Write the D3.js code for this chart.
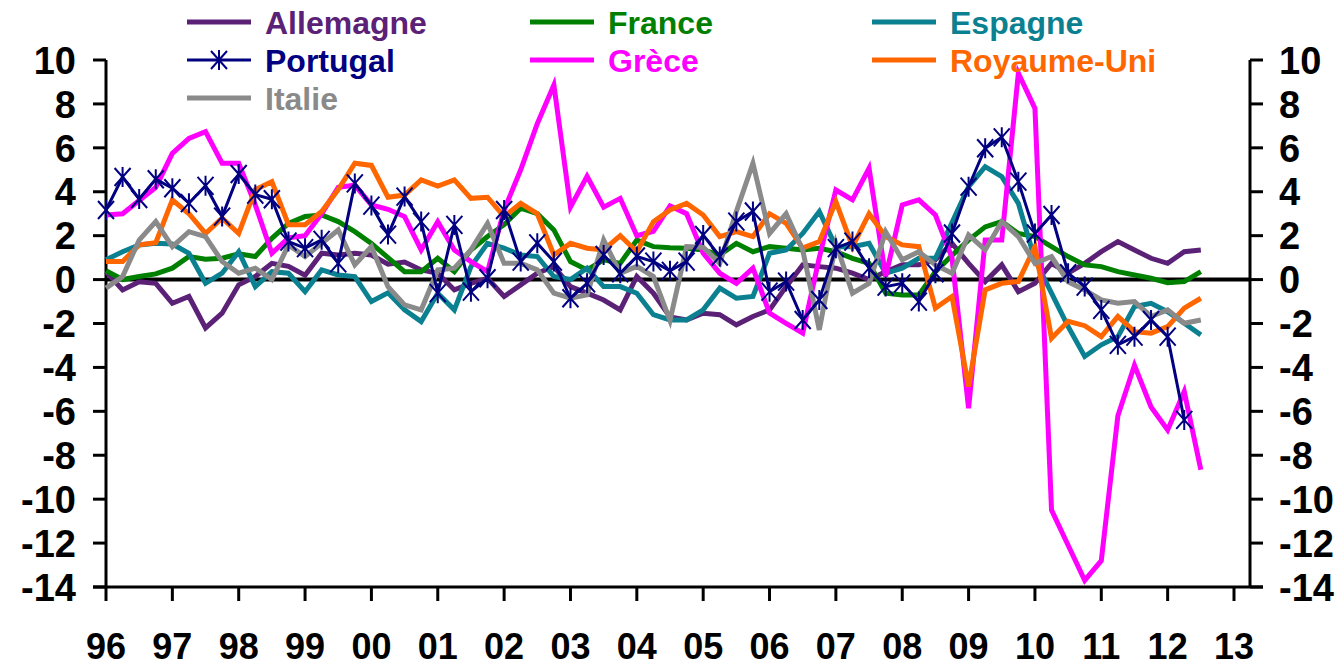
<!DOCTYPE html>
<html>
<head>
<meta charset="utf-8">
<script src="https://cdn.jsdelivr.net/npm/d3@7"></script>
<style>
  body { margin: 0; background: #fff; }
  svg text { font-family: "Liberation Sans", Arial, sans-serif; font-weight: bold; }
</style>
</head>
<body>
<svg width="1344" height="668"></svg>
<script>
// quarterly, from 1996 Q1
var startYear = 1996;
var yearTicks = ["96", "97", "98", "99", "00", "01", "02", "03", "04", "05", "06", "07", "08", "09", "10", "11", "12", "13"];
var yTicks = [10, 8, 6, 4, 2, 0, -2, -4, -6, -8, -10, -12, -14];

var allemagne = [0.36, -0.47, -0.1, -0.17, -1.08, -0.77, -2.2, -1.53, -0.24, 0.14, 0.74, 0.6, 0.2, 1.2, 1.12, 1.2, 1.12, 0.7, 0.8, 0.44, 0.29, -0.47, -0.17, 0.06, -0.77, -0.24, 0.29, 0.6, -0.32, -0.62, -0.93, -1.38, 0.14, -0.62, -1.7, -1.84, -1.53, -1.6, -2.06, -1.68, -1.38, -0.32, 0.67, 0.59, 0.52, 0.29, 0, 0.36, 0.67, 0.67, 0.9, 1.65, 0.74, -0.09, 0.67, -0.55, -0.17, 0.74, 0.29, 0.74, 1.27, 1.73, 1.35, 0.97, 0.74, 1.27, 1.35];
var france = [0.4, 0.0, 0.14, 0.26, 0.52, 1.05, 0.93, 0.97, 1.17, 1.05, 1.88, 2.56, 2.87, 2.94, 2.64, 2.18, 1.65, 1.0, 0.36, 0.36, 0.97, 0.36, 1.35, 1.96, 2.5, 3.25, 3.0, 2.26, 0.82, 0.44, 0.9, 0.74, 1.8, 1.5, 1.45, 1.43, 1.35, 1.12, 1.65, 1.27, 1.5, 1.43, 1.35, 1.43, 1.27, 0.97, 0.74, -0.62, -0.7, -0.7, 0.36, 1.1, 1.8, 2.4, 2.64, 2.1, 1.96, 1.5, 1.05, 0.67, 0.59, 0.36, 0.21, 0.06, -0.14, -0.09, 0.36];
var espagne = [0.9, 1.27, 1.58, 1.65, 1.62, 1.2, -0.17, 0.29, 1.27, -0.32, 0.36, 0.29, -0.55, 0.44, 0.21, 0.14, -1.0, -0.6, -1.38, -1.91, -0.62, -1.38, 0.59, 1.65, 1.43, 1.12, 1.05, 0.14, 0, 0.52, -0.32, -0.32, -0.62, -1.6, -1.84, -1.84, -1.38, -0.39, -0.85, -0.77, 1.2, 1.35, 2.1, 3.1, 1.5, 1.5, 1.65, 0.29, 0.52, 0.97, 0.97, 2.6, 4.23, 5.14, 4.69, 3.47, 0.9, -0.62, -2.14, -3.5, -2.97, -2.6, -1.23, -1.08, -1.46, -1.99, -2.52];
var portugal = [3.17, 4.67, 3.67, 4.57, 4.16, 3.48, 4.27, 2.87, 4.81, 3.87, 3.66, 1.73, 1.43, 1.81, 0.74, 4.38, 3.37, 2.05, 3.78, 2.64, -0.62, 2.49, -0.55, 0.06, 3.17, 0.82, 1.65, 0.82, -0.85, -0.17, 1.12, 0.29, 1.05, 0.82, 0.4, 0.82, 2.03, 1.05, 2.64, 3.1, -0.55, -0.09, -1.84, -0.93, 1.43, 1.73, 0.52, -0.32, -0.17, -1.0, 0.29, 2.1, 4.23, 5.98, 6.48, 4.46, 2.1, 2.94, 0.29, -0.32, -1.38, -2.97, -2.6, -1.84, -2.6, -6.39];
var grece = [2.94, 3.0, 3.6, 4.2, 5.75, 6.43, 6.74, 5.3, 5.3, 3.4, 1.2, 1.9, 2.0, 3.0, 4.2, 4.3, 3.4, 3.2, 2.87, 1.35, 2.64, 1.35, 0.82, 0.36, 3.17, 5.0, 7.1, 8.86, 3.3, 4.7, 3.3, 3.7, 2.0, 2.2, 3.35, 3.0, 1.2, 0.29, -0.17, 0.52, -1.53, -1.99, -2.44, 1.0, 4.08, 3.63, 5.07, 0.14, 3.4, 3.63, 2.94, 1.0, -5.86, 1.8, 1.8, 9.4, 7.8, -10.5, -12.1, -13.7, -12.8, -6.2, -3.9, -5.8, -6.85, -5.1, -8.66];
var royaumeUni = [0.82, 0.82, 1.58, 1.68, 3.63, 3.0, 2.1, 2.8, 2.1, 4.1, 4.46, 2.5, 2.5, 3.1, 4.1, 5.3, 5.2, 3.75, 3.85, 4.54, 4.26, 4.54, 3.7, 3.75, 2.87, 3.47, 3.0, 1.12, 1.65, 1.43, 1.35, 2.0, 1.27, 2.64, 3.17, 3.47, 2.94, 1.96, 2.18, 1.96, 3.0, 2.56, 1.43, 1.73, 3.55, 1.5, 3.0, 1.96, 1.58, 1.5, -1.3, -0.77, -4.87, -0.47, -0.17, -0.09, 1.5, -2.67, -1.9, -2.1, -2.6, -1.68, -2.37, -2.44, -2.14, -1.3, -0.85];
var italie = [-0.39, 0.14, 1.8, 2.64, 1.5, 2.18, 1.96, 0.82, 0.29, 0.52, 0, 1.58, 1.05, 1.65, 2.26, 0.67, 1.5, -0.32, -1.15, -1.38, 0.44, 0.52, 1.35, 2.56, 0.74, 0.74, 0.44, -0.62, -0.85, -0.7, 1.8, 0.29, 0.6, 0.14, -1.87, 1.5, 1.47, 0.74, 3.1, 5.3, 2.1, 3.0, 1.35, -2.29, 1.65, -0.62, -0.17, 2.18, 0.9, 1.27, 0.67, 0.29, 2.03, 1.35, 2.64, 1.96, 0.74, 1.05, -0.1, -0.47, -0.93, -1.08, -1.0, -1.68, -1.38, -1.99, -1.84];

var series = [
  { name: "Allemagne", values: allemagne, color: "#5B2177" },
  { name: "France", values: france, color: "#008000" },
  { name: "Espagne", values: espagne, color: "#0B8090" },
  { name: "Grèce", values: grece, color: "#FF00FF" },
  { name: "Royaume-Uni", values: royaumeUni, color: "#FF6600" },
  { name: "Italie", values: italie, color: "#8A8A8A" },
  { name: "Portugal", values: portugal, color: "#000080", marker: true }
];

var svg = d3.select("svg");

var x = d3.scaleLinear().domain([1996, 2013]).range([106, 1234]);
var y = d3.scaleLinear().domain([-14, 10]).range([587, 60]);
var xLeft = 106, xRight = 1250;

function asterisk(g) {
  g.append("path")
    .attr("d", "M0,-10L0,10M-8,-9L8,9M-8,9L8,-9")
    .attr("fill", "none");
}

// axes
var axes = svg.append("g").attr("stroke", "#000").attr("stroke-width", 3);

axes.append("line").attr("x1", xLeft).attr("x2", xLeft).attr("y1", y(10)).attr("y2", y(-14));
axes.append("line").attr("x1", xRight).attr("x2", xRight).attr("y1", y(10)).attr("y2", y(-14));
axes.append("line").attr("x1", 93).attr("x2", 1263).attr("y1", y(-14)).attr("y2", y(-14));

axes.selectAll(".lt").data(yTicks).enter().append("line")
  .attr("x1", xLeft - 13).attr("x2", xLeft)
  .attr("y1", function(d) { return y(d); }).attr("y2", function(d) { return y(d); });
axes.selectAll(".rt").data(yTicks).enter().append("line")
  .attr("x1", xRight).attr("x2", xRight + 13)
  .attr("y1", function(d) { return y(d); }).attr("y2", function(d) { return y(d); });
axes.selectAll(".xt").data(yearTicks).enter().append("line")
  .attr("x1", function(d, i) { return x(startYear + i); })
  .attr("x2", function(d, i) { return x(startYear + i); })
  .attr("y1", y(-14)).attr("y2", y(-14) + 14);

svg.append("line")
  .attr("x1", xLeft).attr("x2", xRight)
  .attr("y1", y(0)).attr("y2", y(0))
  .attr("stroke", "#000").attr("stroke-width", 4);

svg.append("g").selectAll("text").data(yTicks).enter().append("text")
  .attr("x", 76).attr("y", function(d) { return y(d); })
  .attr("dy", "0.36em").attr("text-anchor", "end")
  .attr("font-size", 38)
  .text(function(d) { return d; });
svg.append("g").selectAll("text").data(yTicks).enter().append("text")
  .attr("x", 1279).attr("y", function(d) { return y(d); })
  .attr("dy", "0.36em").attr("text-anchor", "start")
  .attr("font-size", 38)
  .text(function(d) { return d; });
svg.append("g").selectAll("text").data(yearTicks).enter().append("text")
  .attr("x", function(d, i) { return x(startYear + i); })
  .attr("y", 659).attr("text-anchor", "middle")
  .attr("font-size", 36)
  .text(function(d) { return d; });

// series
var line = d3.line()
  .x(function(d, i) { return x(startYear + i / 4); })
  .y(function(d) { return y(d); });

svg.append("g").selectAll("path").data(series).enter().append("path")
  .attr("d", function(d) { return line(d.values); })
  .attr("fill", "none")
  .attr("stroke", function(d) { return d.color; })
  .attr("stroke-width", function(d) { return d.marker ? 3 : 5; })
  .attr("stroke-linejoin", "miter");

svg.append("g").attr("stroke", "#000080").attr("stroke-width", 2)
  .selectAll("g").data(portugal).enter().append("g")
  .attr("transform", function(d, i) { return "translate(" + x(startYear + i / 4) + "," + y(d) + ")"; })
  .each(function() { asterisk(d3.select(this)); });

// legend
var legendItems = [
  { name: "Allemagne", color: "#5B2177", col: 0, row: 0 },
  { name: "France", color: "#008000", col: 1, row: 0 },
  { name: "Espagne", color: "#0B8090", col: 2, row: 0 },
  { name: "Portugal", color: "#000080", col: 0, row: 1, marker: true },
  { name: "Grèce", color: "#FF00FF", col: 1, row: 1 },
  { name: "Royaume-Uni", color: "#FF6600", col: 2, row: 1 },
  { name: "Italie", color: "#8A8A8A", col: 0, row: 2 }
];
var colX = [187, 530, 872], rowY = [22, 60, 98];

var legend = svg.append("g").selectAll("g").data(legendItems).enter().append("g")
  .attr("transform", function(d) { return "translate(" + colX[d.col] + "," + rowY[d.row] + ")"; });

legend.append("line")
  .attr("x1", 0).attr("x2", 64).attr("y1", 0).attr("y2", 0)
  .attr("stroke", function(d) { return d.color; })
  .attr("stroke-width", function(d) { return d.marker ? 3 : 5; });
legend.filter(function(d) { return d.marker; }).append("g")
  .attr("transform", "translate(32,0)")
  .attr("stroke", "#000080").attr("stroke-width", 2)
  .each(function() { asterisk(d3.select(this)); });
legend.append("text")
  .attr("x", 78).attr("y", 0).attr("dy", "0.36em")
  .attr("font-size", 32)
  .attr("fill", function(d) { return d.color; })
  .text(function(d) { return d.name; });
</script>
</body>
</html>
